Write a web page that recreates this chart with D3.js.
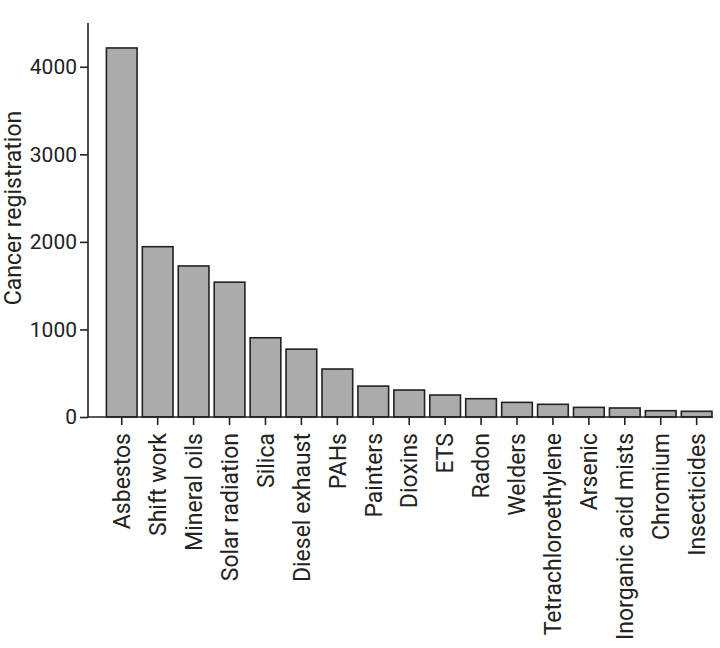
<!DOCTYPE html>
<html>
<head>
<meta charset="utf-8">
<script src="https://cdn.jsdelivr.net/npm/d3@7/dist/d3.min.js"></script>
<style>
  html, body { margin: 0; padding: 0; background: #fff; }
  text { font-family: Roboto, "DejaVu Sans", sans-serif; fill: #222; }
</style>
</head>
<body>
<svg id="chart" width="720" height="648"></svg>
<script>
const categories = ["Asbestos", "Shift work", "Mineral oils", "Solar radiation", "Silica",
  "Diesel exhaust", "PAHs", "Painters", "Dioxins", "ETS", "Radon", "Welders",
  "Tetrachloroethylene", "Arsenic", "Inorganic acid mists", "Chromium", "Insecticides"];
const values = [4215, 1945, 1725, 1540, 905, 775, 548, 353, 308, 251, 209, 167, 145, 110, 103, 72, 65];
const yTicks = [0, 1000, 2000, 3000, 4000];
const yTitle = "Cancer registration";

const svg = d3.select("#chart");
const x0 = 88, xEnd = 713, yTop = 23, yBase = 417;

const x = d3.scaleBand().domain(categories).range([106.4, 712]).paddingInner(0.146).paddingOuter(0);
const y = d3.scaleLinear().domain([0, 4500]).range([yBase, yTop]);

// bars
svg.append("g").selectAll("rect").data(categories).join("rect")
  .attr("x", d => x(d))
  .attr("y", (d, i) => y(values[i]))
  .attr("width", x.bandwidth())
  .attr("height", (d, i) => yBase - y(values[i]))
  .attr("fill", "#ababab")
  .attr("stroke", "#222")
  .attr("stroke-width", 1.6);

// y axis
const yAxis = svg.append("g").attr("transform", `translate(${x0},0)`)
  .call(d3.axisLeft(y).tickValues(yTicks).tickSize(8).tickPadding(3).tickFormat(d3.format("d")));
yAxis.select(".domain").attr("d", `M0,${yTop}V${yBase}`).attr("stroke", "#222").attr("stroke-width", 1.6);
yAxis.selectAll(".tick line").attr("stroke", "#222").attr("stroke-width", 1.6);
yAxis.selectAll(".tick text").attr("font-size", 21).attr("fill", "#222")
  .style("font-family", "Roboto, sans-serif");

// x axis
const xAxis = svg.append("g").attr("transform", `translate(0,${yBase})`)
  .call(d3.axisBottom(x).tickSize(8).tickSizeOuter(0));
xAxis.select(".domain").attr("d", `M${x0},0H${xEnd}`).attr("stroke", "#222").attr("stroke-width", 1.6);
xAxis.selectAll(".tick line").attr("stroke", "#222").attr("stroke-width", 1.6);
xAxis.selectAll(".tick text")
  .attr("transform", "rotate(-90)")
  .attr("text-anchor", "end")
  .attr("x", -16)
  .attr("y", 0)
  .attr("dy", "0.36em")
  .attr("font-size", 23)
  .attr("fill", "#222")
  .style("font-family", "Roboto, sans-serif");

// y title
svg.append("text")
  .attr("transform", `translate(21,208) rotate(-90)`)
  .attr("text-anchor", "middle")
  .attr("font-size", 23)
  .text(yTitle);
</script>
</body>
</html>
